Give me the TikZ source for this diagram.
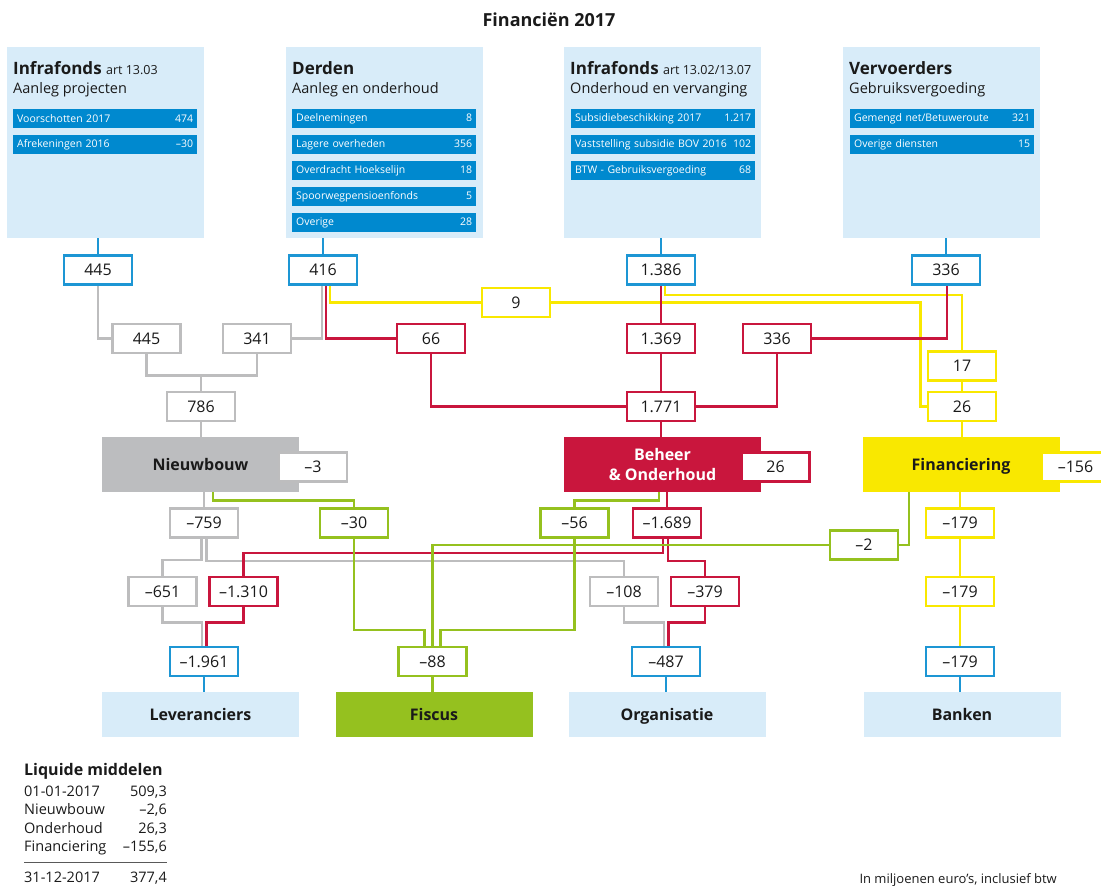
\documentclass[tikz,border=0pt]{standalone}
\usepackage{fontspec}
\setmainfont{Open Sans}
\usetikzlibrary{backgrounds,calc}
\definecolor{lblue}{HTML}{D8ECF9}
\definecolor{barblue}{HTML}{0089CF}
\definecolor{cblue}{HTML}{1D96D4}
\definecolor{cgray}{HTML}{BDBDBE}
\definecolor{cred}{HTML}{C9163D}
\definecolor{cyel}{HTML}{F9E800}
\definecolor{cgrn}{HTML}{95C11F}
\definecolor{boxgray}{HTML}{BCBDBF}
\definecolor{txt}{HTML}{1A1A1A}
\newcommand\nbfont{\fontsize{16}{16}\selectfont}
\newcommand\titfont{\bfseries\fontsize{18}{20}\selectfont}
\newcommand\ttlfont{\bfseries\fontsize{17}{20}\selectfont}
\newcommand\smfont{\fontsize{12.5}{14}\selectfont}
\newcommand\subfont{\fontsize{14.5}{16}\selectfont}
\newcommand\barfont{\fontsize{10.5}{12}\selectfont}
\newcommand\mbfont{\bfseries\fontsize{16}{20}\selectfont}
\newcommand\lgbfont{\bfseries\fontsize{16}{18}\selectfont}
\newcommand\lgfont{\fontsize{14.5}{16}\selectfont}
\newcommand\fnfont{\fontsize{13}{15}\selectfont}
\begin{document}
\begin{tikzpicture}[x=1pt,y=-1pt,text=txt,
  nb/.style={draw, line width=2.8pt, fill=white, minimum width=68pt, minimum height=29pt, inner sep=0pt, font=\nbfont, text height=11.5pt, text depth=0pt},
  bnb/.style={nb, draw=cblue},
  gnb/.style={nb, draw=cgray},
  rnb/.style={nb, draw=cred},
  ynb/.style={nb, draw=cyel},
  grnb/.style={nb, draw=cgrn},
  ln/.style={line width=2.6pt},
  lblu/.style={ln, draw=cblue},
  lgray/.style={ln, draw=cgray},
  lred/.style={ln, draw=cred},
  lyel/.style={ln, draw=cyel},
  lgrn/.style={ln, draw=cgrn},
  tbox/.style={fill=lblue, minimum width=197pt, minimum height=191pt, inner sep=0pt, anchor=north west},
  bar/.style={fill=barblue, text=white, font=\barfont, minimum height=19pt, text width=176pt, inner xsep=4pt, inner ysep=0pt, anchor=north west, align=left},
  ttl/.style={anchor=base west, inner sep=0pt, font=\ttlfont},
  sub/.style={anchor=base west, inner sep=0pt, font=\subfont},
  mbox/.style={minimum width=197pt, minimum height=55pt, inner sep=0pt, font=\mbfont, align=center},
  one/.style={text height=11.5pt, text depth=0pt},
  bbox/.style={mbox, one, minimum height=45pt, fill=lblue},
  lgl/.style={anchor=base west, inner sep=0pt, font=\lgfont},
  lgv/.style={anchor=base east, inner sep=0pt, font=\lgfont}
]
\useasboundingbox (0,0) rectangle (1101,886);
\clip (0,0) rectangle (1101,886);

\node[font=\titfont] (title) at (549,20) {Financiën 2017};

% top boxes
\node[tbox] (top1) at (7,47) {};
\node[tbox] (top2) at (286,47) {};
\node[tbox] (top3) at (564,47) {};
\node[tbox] (top4) at (843,47) {};

\node[ttl] (t1) at (13,74) {Infrafonds {\mdseries\smfont art 13.03}};
\node[sub] (s1) at (13,93) {Aanleg projecten};
\node[bar] (a1) at (13,109) {Voorschotten 2017\hfill 474};
\node[bar] (a2) at (13,135) {Afrekeningen 2016\hfill –30};

\node[ttl] (t2) at (292,74) {Derden};
\node[sub] (s2) at (292,93) {Aanleg en onderhoud};
\node[bar] (d1) at (292,109) {Deelnemingen\hfill 8};
\node[bar] (d2) at (292,135) {Lagere overheden\hfill 356};
\node[bar] (d3) at (292,161) {Overdracht Hoekselijn\hfill 18};
\node[bar] (d4) at (292,187) {Spoorwegpensioenfonds\hfill 5};
\node[bar] (d5) at (292,213) {Overige\hfill 28};

\node[ttl] (t3) at (570,74) {Infrafonds {\mdseries\smfont art 13.02/13.07}};
\node[sub] (s3) at (570,93) {Onderhoud en vervanging};
\node[bar] (o1) at (571,109) {Subsidiebeschikking 2017\hfill 1.217};
\node[bar] (o2) at (571,135) {Vaststelling subsidie BOV 2016\hfill 102};
\node[bar] (o3) at (571,161) {BTW - Gebruiksvergoeding\hfill 68};

\node[ttl] (t4) at (849,74) {Vervoerders};
\node[sub] (s4) at (849,93) {Gebruiksvergoeding};
\node[bar] (v1) at (850,109) {Gemengd net/Betuweroute\hfill 321};
\node[bar] (v2) at (850,135) {Overige diensten\hfill 15};

% row 1
\node[bnb] (b445) at (98,270) {445};
\node[bnb] (b416) at (323,270) {416};
\node[bnb] (b1386) at (661,270) {1.386};
\node[bnb] (b336) at (946,270) {336};

% row 2
\node[ynb] (y9) at (516,302.5) {9};
\node[gnb] (g445) at (146.5,338.5) {445};
\node[gnb] (g341) at (257,338.5) {341};
\node[rnb] (r66) at (431,338.5) {66};
\node[rnb] (r1369) at (661,338.5) {1.369};
\node[rnb] (r336) at (777,338.5) {336};
\node[ynb] (y17) at (962,366) {17};

% row 3
\node[gnb] (g786) at (201,406.5) {786};
\node[rnb] (r1771) at (661,406.5) {1.771};
\node[ynb] (y26) at (962,406.5) {26};

% main boxes
\node[mbox, one, fill=boxgray] (nieuw) at (200.5,464.5) {Nieuwbouw};
\node[gnb] (n3) at (313,467) {–3};
\node[mbox, fill=cred, text=white] (beheer) at (662.5,464.5) {Beheer\\\& Onderhoud};
\node[rnb] (r26) at (775.5,467) {26};
\node[mbox, one, fill=cyel] (fin) at (961,464.5) {Financiering};
\node[ynb] (y156) at (1075.5,467) {–156};

% row 4
\node[gnb] (g759) at (204,523) {–759};
\node[grnb] (n30) at (354,523) {–30};
\node[grnb] (n56) at (574.5,523) {–56};
\node[rnb] (r1689) at (667,523) {–1.689};
\node[grnb] (n2) at (864,545) {–2};
\node[ynb] (y179a) at (960,523) {–179};

% row 5
\node[gnb] (g651) at (162.5,591.5) {–651};
\node[rnb] (r1310) at (243.5,591.5) {–1.310};
\node[gnb] (g108) at (624,591.5) {–108};
\node[rnb] (r379) at (705,591.5) {–379};
\node[ynb] (y179b) at (960,591.5) {–179};

% row 6
\node[bnb] (b1961) at (204,661.5) {–1.961};
\node[grnb] (n88) at (432.5,661.5) {–88};
\node[bnb] (b487) at (666,661.5) {–487};
\node[bnb] (b179) at (960,661.5) {–179};

% bottom boxes
\node[bbox] (lev) at (200.5,714.5) {Leveranciers};
\node[bbox, fill=cgrn] (fisc) at (434,714.5) {Fiscus};
\node[bbox] (org) at (667,714.5) {Organisatie};
\node[bbox] (bank) at (962,714.5) {Banken};

% legend
\node[anchor=base west, inner sep=0pt, font=\lgbfont] (lg) at (24,775) {Liquide middelen};
\node[lgl] (l1) at (24,796) {01-01-2017};
\node[lgv] (w1) at (167,796) {509,3};
\node[lgl] (l2) at (24,814.5) {Nieuwbouw};
\node[lgv] (w2) at (167,814.5) {–2,6};
\node[lgl] (l3) at (24,833) {Onderhoud};
\node[lgv] (w3) at (167,833) {26,3};
\node[lgl] (l4) at (24,851) {Financiering};
\node[lgv] (w4) at (167,851) {–155,6};
\draw[line width=1pt, draw=black!65] (24,862) -- (167,862);
\node[lgl] (l5) at (24,882) {31-12-2017};
\node[lgv] (w5) at (167,882) {377,4};

\node[anchor=base east, inner sep=0pt, font=\fnfont] (fn) at (1057,883) {In miljoenen euro’s, inclusief btw};

\begin{pgfonlayer}{background}
% top connectors
\draw[lblu] (b445.north |- top1.south) -- (b445.north);
\draw[lblu] (b416.north |- top2.south) -- (b416.north);
\draw[lblu] (b1386.north |- top3.south) -- (b1386.north);
\draw[lblu] (b336.north |- top4.south) -- (b336.north);
% row 1 -> 2
\draw[lgray] (b445.south) |- (g445.west);
\draw[lgray] ([xshift=-1pt]b416.south) |- (g341.east);
\draw[lred] ([xshift=3pt]b416.south) |- (r66.west);
\draw[lyel] ([xshift=7pt]b416.south) |- (y9.west);
\draw[lyel] (y9.east) -| ([xshift=-6pt]y26.west) -- (y26.west);
\draw[lred] (b1386.south) -- (r1369.north);
\draw[lyel] ([xshift=4pt]b1386.south) -- ++(0,9) -| (y17.north);
\draw[lred] ([xshift=1pt]b336.south) |- (r336.east);
\draw[lyel] (y17.south) -- (y26.north);
% row 2 -> 3
\draw[lgray] (g445.south) -- ++(0,21) -| (g341.south);
\draw[lgray] (g786.north) -- ++(0,-16);
\draw[lred] (r66.south) |- (r1771.west);
\draw[lred] (r336.south) |- (r1771.east);
\draw[lred] (r1369.south) -- (r1771.north);
% row 3 -> main
\draw[lgray] (g786.south) -- (g786.south |- nieuw.north);
\draw[lred] (r1771.south) -- (r1771.south |- beheer.north);
\draw[lyel] (y26.south) -- (y26.south |- fin.north);
% main -> row 4
\draw[lgray] (g759.north |- nieuw.south) -- (g759.north);
\draw[lgrn] ([xshift=9pt]g759.north |- nieuw.south) -- ++(0,8) -| (n30.north);
\draw[lgrn] ([xshift=-3.5pt]beheer.south) -- ++(0,8) -| (n56.north);
\draw[lred] (r1689.north |- beheer.south) -- (r1689.north);
\draw[lgrn] ([xshift=-52pt]fin.south) |- (n2.east);
\draw[lyel] (y179a.north |- fin.south) -- (y179a.north);
% row 4 -> 5
\draw[lgray] ([xshift=-2.5pt]g759.south) -- ++(0,21) -| (g651.north);
\draw[lgray] ([xshift=2.5pt]g759.south) -- ++(0,22) -| (g108.north);
\draw[lred] ([xshift=-4pt]r1689.south) -- ++(0,14) -| (r1310.north);
\draw[lred] ([xshift=1pt]r1689.south) -- ++(0,22) -| (r379.north);
\draw[lyel] (y179a.south) -- (y179b.north);
% green to fiscus
\draw[lgrn] (n2.west) -| (n88.north);
\draw[lgrn] (n30.south) -- ++(0,91) -| ([xshift=-8pt]n88.north);
\draw[lgrn] (n56.south) -- ++(0,91) -| ([xshift=8pt]n88.north);
% row 5 -> 6
\draw[lgray] (g651.south) -- ++(0,15) -| ([xshift=-2pt]b1961.north);
\draw[lred] (r1310.south) -- ++(0,15) -| ([xshift=2.5pt]b1961.north);
\draw[lgray] (g108.south) -- ++(0,15) -| ([xshift=-2pt]b487.north);
\draw[lred] (r379.south) -- ++(0,15) -| ([xshift=2.5pt]b487.north);
\draw[lyel] (y179b.south) -- (b179.north);
% row 6 -> bottom
\draw[lblu] (b1961.south) -- (b1961.south |- lev.north);
\draw[lgrn] (n88.south) -- (n88.south |- fisc.north);
\draw[lblu] (b487.south) -- (b487.south |- org.north);
\draw[lblu] (b179.south) -- (b179.south |- bank.north);
\end{pgfonlayer}
\end{tikzpicture}
\end{document}
